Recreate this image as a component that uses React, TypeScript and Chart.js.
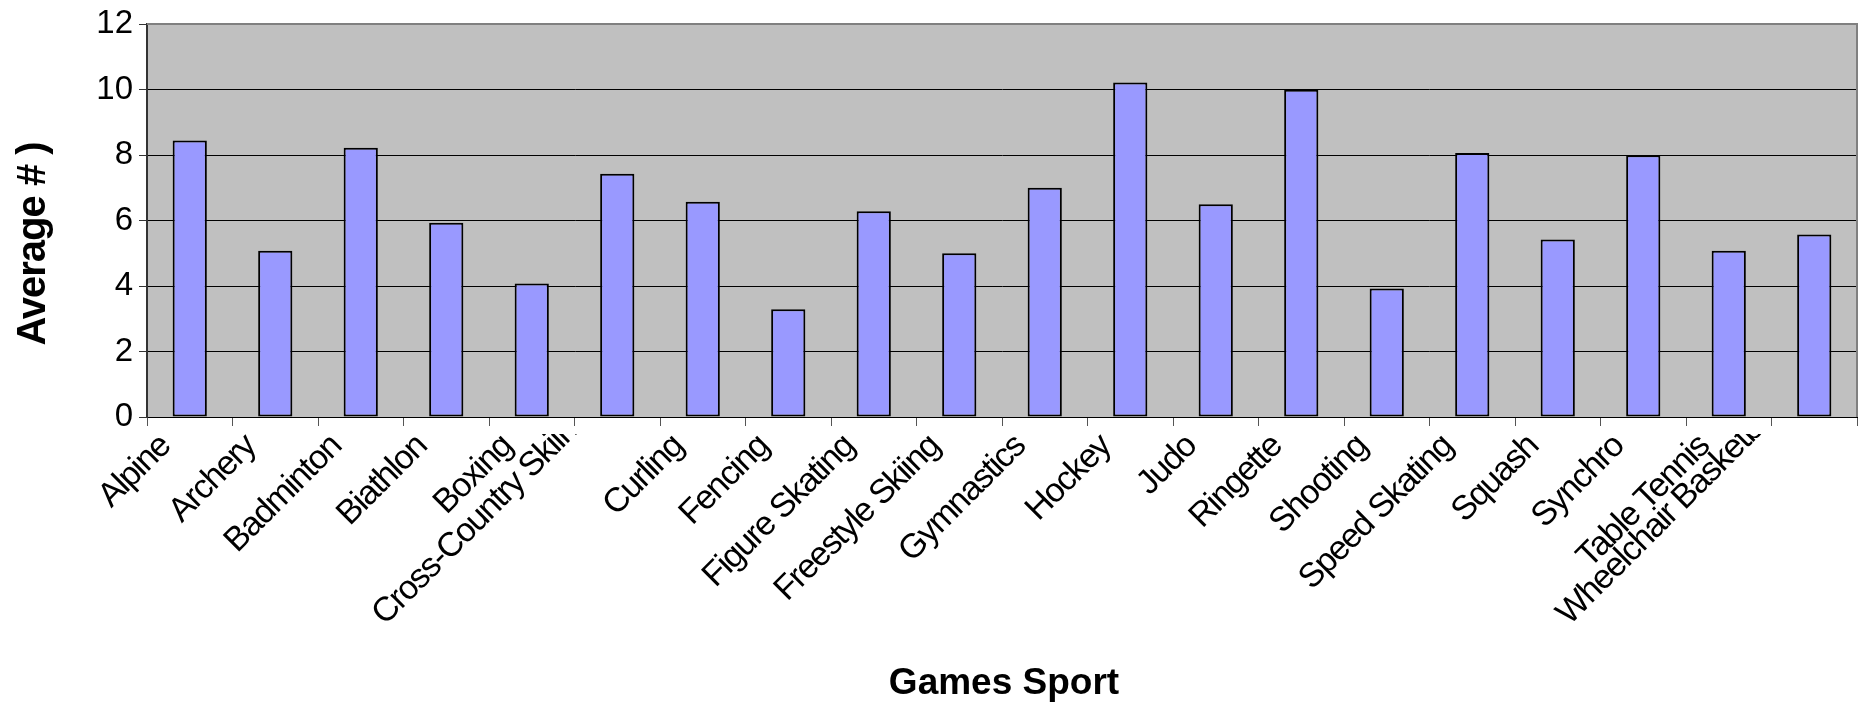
import React, { useEffect, useRef } from 'react';
import { Chart, registerables } from 'chart.js';

Chart.register(...registerables);

const categories = [
  'Alpine', 'Archery', 'Badminton', 'Biathlon', 'Boxing', 'Cross-Country Skiing',
  'Curling', 'Fencing', 'Figure Skating', 'Freestyle Skiing', 'Gymnastics', 'Hockey',
  'Judo', 'Ringette', 'Shooting', 'Speed Skating', 'Squash', 'Synchro', 'Table Tennis',
  'Wheelchair Basketball',
];
const averages = [
  8.44, 5.08, 8.22, 5.93, 4.08, 7.43, 6.57, 3.29, 6.28, 5.0, 7.0, 10.21,
  6.5, 9.99, 3.92, 8.06, 5.42, 7.99, 5.08, 5.57,
];
const yMin = 0;
const yMax = 12;
const yStep = 2;
const yTitle = 'Average # )';
const xTitle = 'Games Sport';

const FONT = '"Liberation Sans", Arial, Helvetica, sans-serif';

const decorPlugin = {
  id: 'decor',
  beforeDraw(chart: any) {
    const { ctx, chartArea: a } = chart;
    ctx.save();
    ctx.fillStyle = '#C0C0C0';
    ctx.fillRect(a.left, a.top, a.right - a.left, a.bottom - a.top);
    ctx.restore();
  },
  afterDraw(chart: any) {
    const { ctx, chartArea: a, scales } = chart;
    const xs = scales.x;
    // top / right plot border
    ctx.save();
    ctx.strokeStyle = '#808080';
    ctx.lineWidth = 2;
    ctx.beginPath();
    ctx.moveTo(a.left, a.top);
    ctx.lineTo(a.right, a.top);
    ctx.lineTo(a.right, a.bottom);
    ctx.stroke();
    ctx.restore();

    // rotated category labels; long ones are pushed up and clipped just below the axis
    const r = Math.SQRT1_2;
    const startLimit = 626;
    ctx.save();
    ctx.beginPath();
    ctx.rect(0, a.bottom + 17, chart.width, chart.height - a.bottom - 17);
    ctx.clip();
    ctx.font = `34px ${FONT}`;
    (ctx as any).letterSpacing = '-1.5px';
    ctx.fillStyle = '#000';
    ctx.textAlign = 'right';
    ctx.textBaseline = 'alphabetic';
    categories.forEach((c, i) => {
      const px = xs.getPixelForTick(i);
      let ax = px - 18;
      let ay = a.bottom + 31;
      const w = ctx.measureText(c).width;
      const sy = ay + w * r;
      if (sy > startLimit) {
        const d = sy - startLimit;
        ax -= 0.3 * d;
        ay -= d;
      }
      ctx.save();
      ctx.translate(ax, ay);
      ctx.rotate(-Math.PI / 4);
      ctx.fillText(c, 0, 0);
      ctx.restore();
    });
    ctx.restore();

    // axis titles
    ctx.save();
    ctx.fillStyle = '#000';
    ctx.font = `bold 37px ${FONT}`;
    ctx.textAlign = 'center';
    ctx.textBaseline = 'alphabetic';
    ctx.fillText(xTitle, (a.left + a.right) / 2 + 2, 694);
    ctx.font = `bold 40px ${FONT}`;
    (ctx as any).letterSpacing = '-1px';
    ctx.translate(45, 244);
    ctx.rotate(-Math.PI / 2);
    ctx.fillText(yTitle, 0, 0);
    ctx.restore();
  },
};

export default function App() {
  const ref = useRef<HTMLCanvasElement | null>(null);

  useEffect(() => {
    if (!ref.current) return;
    const chart = new Chart(ref.current, {
      type: 'bar',
      data: {
        labels: categories,
        datasets: [
          {
            data: averages,
            backgroundColor: '#9999FF',
            borderColor: '#000000',
            borderWidth: 2,
            borderSkipped: false,
            categoryPercentage: 1,
            barPercentage: 0.4,
          },
        ],
      },
      options: {
        responsive: false,
        animation: false,
        devicePixelRatio: 1,
        layout: { padding: { left: 0, top: 24, right: 1, bottom: 0 } },
        plugins: {
          legend: { display: false },
          tooltip: { enabled: false },
          title: { display: false },
        },
        scales: {
          x: {
            type: 'category',
            offset: true,
            grid: {
              display: true,
              offset: true,
              drawOnChartArea: false,
              drawTicks: true,
              tickLength: 9,
              color: '#555555',
            },
            border: { display: true, color: '#000000', width: 1 },
            ticks: { display: false },
            afterFit: (s: any) => {
              s.height = 702 - 417;
            },
          } as any,
          y: {
            min: yMin,
            max: yMax,
            ticks: {
              stepSize: yStep,
              color: '#000000',
              font: { family: FONT, size: 33, lineHeight: 1 },
              padding: 6,
            },
            grid: {
              color: '#000000',
              tickColor: '#333333',
              tickLength: 8,
              lineWidth: 1,
            },
            border: { display: true, color: '#333333', width: 2 },
            afterFit: (s: any) => {
              s.width = 147;
            },
          } as any,
        },
      },
      plugins: [decorPlugin],
    });
    return () => chart.destroy();
  }, []);

  return (
    <div style={{ position: 'fixed', left: 0, top: 0, width: 1858, height: 702, background: '#fff' }}>
      <canvas ref={ref} width={1858} height={702} style={{ display: 'block' }} />
    </div>
  );
}
